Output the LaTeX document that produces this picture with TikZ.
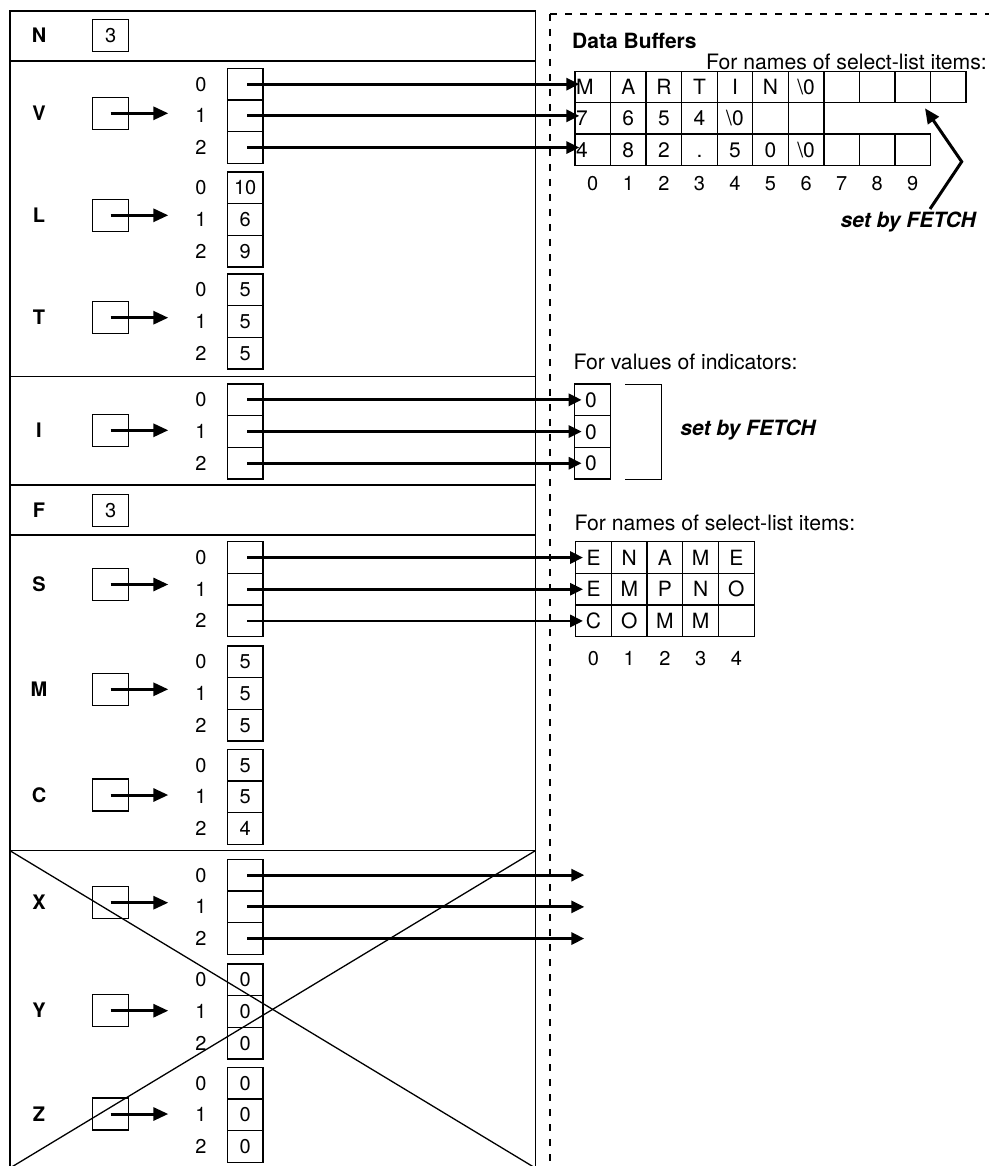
\documentclass[tikz,border=0pt]{standalone}
\usepackage{fontspec}
\setmainfont{TeX Gyre Heros}
\usetikzlibrary{arrows.meta}
\begin{document}
\begin{tikzpicture}[x=1pt,y=-1pt,
  frame/.style={line width=1.4pt},
  cell/.style={draw,line width=1.3pt,minimum width=35.7pt,minimum height=31.7pt,inner sep=0pt,text height=14pt,text depth=0pt,font=\fontsize{20}{22}\selectfont},
  pbox/.style={draw,line width=1.3pt,minimum width=36pt,minimum height=32pt,inner sep=0pt,text height=14pt,text depth=0pt,font=\fontsize{20}{22}\selectfont},
  bcell/.style={draw,line width=1.3pt,minimum width=35.55pt,minimum height=31.4pt,inner sep=0pt},
  btext/.style={inner sep=0pt,text height=15pt,text depth=0pt,font=\fontsize{21}{23}\selectfont},
  lbl/.style={inner sep=0pt,text height=14pt,text depth=0pt,font=\bfseries\fontsize{20}{22}\selectfont},
  idx/.style={inner sep=0pt,text height=14pt,text depth=0pt,font=\fontsize{20}{22}\selectfont},
  rtext/.style={inner sep=0pt,font=\fontsize{21.2}{23}\selectfont},
  fetch/.style={inner sep=0pt,font=\bfseries\itshape\fontsize{21}{23}\selectfont},
  parrow/.style={line width=3pt,-{Triangle[length=15pt,width=13pt]}},
  larrow/.style={line width=2.9pt,-{Triangle[length=13pt,width=12pt]}},
  dashline/.style={line width=1.5pt,dash pattern=on 7pt off 8pt}
]
\useasboundingbox (0,0) rectangle (989,1166);
\clip (0,0) rectangle (989,1166);

% ---------- left panel frame ----------
\draw[frame] (10,11) rectangle (535.3,1168);
\foreach \yy in {61,376.7,485,535,850.7} \draw[frame] (10,\yy) -- (535.3,\yy);

% N and F
\node[lbl] (Nlab) at (39,35.2) {N};
\node[pbox] (Nbox) at (110.7,35.2) {3};
\node[lbl] (Flab) at (39,510.2) {F};
\node[pbox] (Fbox) at (110.7,510.2) {3};

\newcommand\drawgroup[6]{%
  \node[lbl] (#1lab) at (39,#3) {#1};
  \node[pbox] (#1p) at (110.7,#3) {};
  \node[cell] (#10) at (245.2,{#2+15.85}) {#4};
  \node[cell] (#11) at (245.2,{#2+47.55}) {#5};
  \node[cell] (#12) at (245.2,{#2+79.25}) {#6};
  \node[idx] (#1i0) at (201,{#2+15.85}) {0};
  \node[idx] (#1i1) at (201,{#2+47.55}) {1};
  \node[idx] (#1i2) at (201,{#2+79.25}) {2};
  \coordinate (#1s0) at (247.3,{#2+15.85});
  \coordinate (#1s1) at (247.3,{#2+47.55});
  \coordinate (#1s2) at (247.3,{#2+79.25});
  \coordinate (#1t) at (168.3,#3);
  \draw[parrow] (#1p.center) -- (#1t);
}
\drawgroup{V}{68.3}{113.3}{}{}{}
\drawgroup{L}{172}{215.3}{10}{6}{9}
\drawgroup{T}{274}{317.7}{5}{5}{5}
\drawgroup{I}{384}{430.3}{}{}{}
\drawgroup{S}{541.7}{584.5}{}{}{}
\drawgroup{M}{646}{689.3}{5}{5}{5}
\drawgroup{C}{749.3}{795}{5}{5}{4}
\drawgroup{X}{859.3}{902.7}{}{}{}
\drawgroup{Y}{964}{1010.7}{0}{0}{0}
\drawgroup{Z}{1067.3}{1114}{0}{0}{0}

% cross over X/Y/Z
\draw[line width=1.3pt] (10,850.7) -- (535.3,1168);
\draw[line width=1.3pt] (535.3,850.7) -- (10,1168);

% ---------- right panel ----------
\draw[dashline] (550,14) -- (989,14);
\draw[dashline] (550,14) -- (550,1170);

\node[inner sep=0pt,font=\bfseries\fontsize{21}{23}\selectfont,anchor=west] (db) at (572,41) {Data Buffers};
\node[rtext,anchor=east] (fn1) at (987,62) {For names of select-list items:};

% buffer rows
\foreach \t [count=\i from 0] in {M,A,R,T,I,N,{\textbackslash 0},{},{},{},{}} {
  \node[bcell] (Ba\i) at ({575+35.55*(\i+0.5)},87) {};
  \ifnum\i=0 \node[btext,anchor=west] (Ba\i t) at ([xshift=1.5pt]Ba\i.west) {\t};
  \else \node[btext] (Ba\i t) at (Ba\i) {\t}; \fi
}
\foreach \t [count=\i from 0] in {7,6,5,4,{\textbackslash 0},{},{}} {
  \node[bcell] (Bb\i) at ({575+35.55*(\i+0.5)},118.4) {};
  \ifnum\i=0 \node[btext,anchor=west] (Bb\i t) at ([xshift=1.5pt]Bb\i.west) {\t};
  \else \node[btext] (Bb\i t) at (Bb\i) {\t}; \fi
}
\foreach \t [count=\i from 0] in {4,8,2,.,5,0,{\textbackslash 0},{},{},{}} {
  \node[bcell] (Bc\i) at ({575+35.55*(\i+0.5)},149.8) {};
  \ifnum\i=0 \node[btext,anchor=west] (Bc\i t) at ([xshift=1.5pt]Bc\i.west) {\t};
  \else \node[btext] (Bc\i t) at (Bc\i) {\t}; \fi
}
\foreach \i in {0,...,9} \node[idx] (Bi\i) at ({575+35.55*(\i+0.5)},184) {\i};

\draw[larrow,shorten >=-5pt] (Vs0) -- (Vs0 -| Ba0.west);
\draw[larrow,shorten >=-5pt] (Vs1) -- (Vs1 -| Bb0.west);
\draw[larrow,shorten >=-5pt] (Vs2) -- (Vs2 -| Bc0.west);

% set by FETCH (top)
\node[fetch,anchor=east] (fetch1) at (976,222) {set by FETCH};
\coordinate (fa) at (930,209);
\coordinate (fb) at (961.7,161.7);
\coordinate (fc) at (925,108.3);
\draw[parrow] (fa) -- (fb) -- (fc);

% indicators
\node[rtext,anchor=west] (fv) at (573.3,362.3) {For values of indicators:};
\foreach \k in {0,1,2} {
  \node[bcell,minimum width=36.4pt,minimum height=31.7pt] (In\k) at (592.5,{384+15.85+31.7*\k}) {};
  \node[btext] (In\k t) at ([xshift=-1.5pt]In\k) {0};
  \draw[larrow,shorten >=-8pt] (Is\k) -- (Is\k -| In\k.west);
}
\draw[line width=1.3pt] (625,384.3) -- (661.7,384.3) -- (661.7,479.3) -- (625,479.3);
\node[fetch] (fetch2) at (748,430) {set by FETCH};

% select-list names
\foreach \r/\ta/\tb/\tc/\td/\te in {0/E/N/A/M/E,1/E/M/P/N/O,2/C/O/M/M/{}} {
  \foreach \t [count=\c from 0] in {\ta,\tb,\tc,\td,\te} {
    \node[bcell,minimum width=35.7pt,minimum height=31.7pt] (Sn\r\c) at ({575.7+35.7*(\c+0.5)},{541.7+15.85+31.7*\r}) {};
    \node[btext] (Sn\r\c t) at (Sn\r\c) {\t};
  }
}
\node[rtext,anchor=west] (fn2) at (574.3,522.7) {For names of select-list items:};
\foreach \i in {0,...,4} \node[idx] (Sni\i) at ({575.7+35.7*(\i+0.5)},658.3) {\i};
\draw[larrow,shorten >=-8pt] (Ss0) -- (Ss0 -| Sn00.west);
\draw[larrow,shorten >=-8pt] (Ss1) -- (Ss1 -| Sn10.west);
\draw[larrow,shorten >=-8pt] (Ss2) -- (Ss2 -| Sn20.west);

% X pointers to nowhere
\foreach \k in {0,1,2} {
  \coordinate (Xe\k) at (584.3,{859.3+15.85+31.7*\k});
  \draw[larrow] (Xs\k) -- (Xe\k);
}
\end{tikzpicture}
\end{document}
